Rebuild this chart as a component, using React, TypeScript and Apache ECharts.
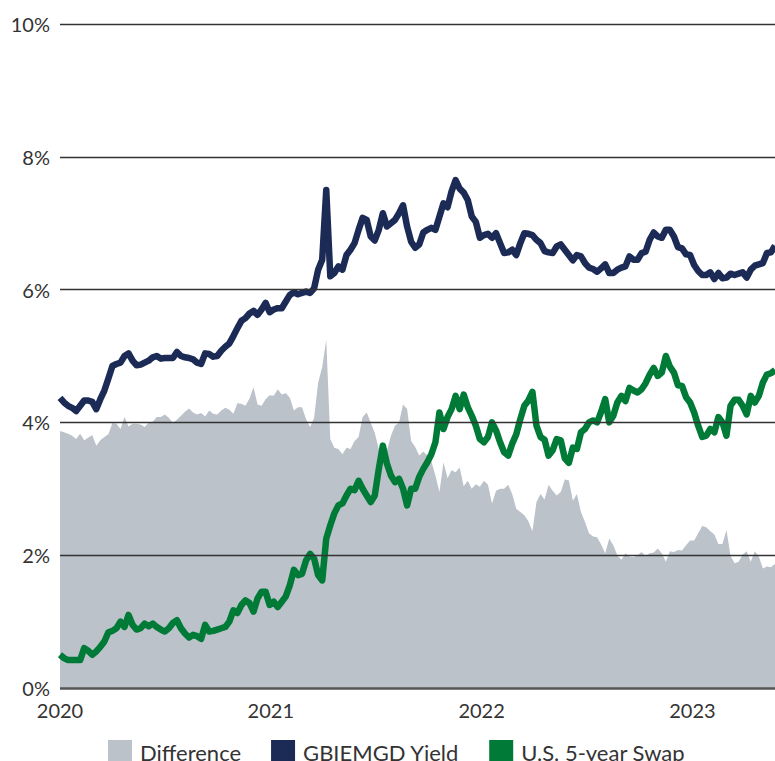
import React, { useEffect, useRef } from "react";
import * as echarts from "echarts";

// Weekly observations starting 2020-01-01
const START_DATE = "2020-01-01";
const STEP_DAYS = 7;

const gbiYield = [
  4.37, 4.3, 4.25, 4.22, 4.17, 4.25, 4.33, 4.33, 4.31, 4.2,
  4.35, 4.48, 4.66, 4.85, 4.88, 4.9, 5.0, 5.04, 4.93, 4.86,
  4.87, 4.9, 4.93, 4.98, 5.0, 4.96, 4.97, 4.97, 4.97, 5.06,
  5.0, 4.98, 4.97, 4.95, 4.9, 4.88, 5.04, 5.03, 4.99, 5.0,
  5.08, 5.14, 5.19, 5.3, 5.42, 5.53, 5.57, 5.64, 5.68, 5.62,
  5.7, 5.8, 5.66, 5.7, 5.72, 5.72, 5.82, 5.92, 5.96, 5.93,
  5.95, 5.97, 5.95, 6.02, 6.3, 6.45, 7.5, 6.2, 6.25, 6.35,
  6.3, 6.52, 6.6, 6.7, 6.9, 7.08, 7.05, 6.8, 6.74, 6.9,
  7.15, 6.95, 7.0, 7.05, 7.15, 7.27, 6.95, 6.72, 6.63, 6.68,
  6.86, 6.9, 6.93, 6.9, 7.1, 7.3, 7.24, 7.48, 7.65, 7.52,
  7.46, 7.35, 7.1, 7.02, 6.78, 6.82, 6.84, 6.78, 6.85, 6.7,
  6.55, 6.56, 6.6, 6.52, 6.7, 6.85, 6.84, 6.82, 6.75, 6.7,
  6.58, 6.56, 6.55, 6.65, 6.68, 6.6, 6.52, 6.44, 6.52, 6.5,
  6.4, 6.33, 6.31, 6.27, 6.32, 6.38, 6.25, 6.25, 6.3, 6.33,
  6.35, 6.5, 6.45, 6.45, 6.55, 6.57, 6.75, 6.86, 6.8, 6.78,
  6.9, 6.9, 6.8, 6.64, 6.62, 6.53, 6.52, 6.37, 6.28, 6.22,
  6.22, 6.26, 6.16, 6.25, 6.17, 6.18, 6.24, 6.22, 6.24, 6.26,
  6.18, 6.3, 6.36, 6.38, 6.4, 6.55, 6.56, 6.66,
];

const swap5y = [
  0.5, 0.45, 0.42, 0.42, 0.42, 0.42, 0.6, 0.56, 0.5, 0.55,
  0.62, 0.7, 0.84, 0.86, 0.9, 1.0, 0.92, 1.1, 0.95, 0.88,
  0.9, 0.97, 0.93, 0.97, 0.92, 0.88, 0.85, 0.9, 0.98, 1.02,
  0.9, 0.82, 0.76, 0.8, 0.78, 0.74, 0.95, 0.85, 0.86, 0.88,
  0.9, 0.92, 1.0, 1.17, 1.13, 1.25, 1.32, 1.28, 1.15, 1.35,
  1.45, 1.45, 1.25, 1.3, 1.22, 1.3, 1.38, 1.55, 1.78, 1.7,
  1.72, 1.92, 2.02, 1.95, 1.7, 1.62, 2.25, 2.45, 2.63, 2.75,
  2.78, 2.9, 3.0, 2.98, 3.12, 3.0, 2.9, 2.8, 2.9, 3.3,
  3.65, 3.38, 3.2, 3.1, 3.15, 3.0, 2.75, 3.0, 3.0, 3.18,
  3.3, 3.4, 3.52, 3.7, 4.15, 3.9, 4.08, 4.2, 4.4, 4.2,
  4.42, 4.23, 4.1, 3.95, 3.75, 3.7, 3.78, 4.0, 3.88, 3.7,
  3.55, 3.5, 3.68, 3.82, 4.05, 4.25, 4.33, 4.46, 3.95, 3.78,
  3.74, 3.5, 3.58, 3.75, 3.73, 3.46, 3.39, 3.62, 3.6, 3.85,
  3.9, 4.0, 4.03, 4.0, 4.16, 4.35, 4.0, 4.1, 4.3, 4.4,
  4.32, 4.52, 4.48, 4.45, 4.5, 4.59, 4.72, 4.82, 4.7, 4.75,
  5.0, 4.84, 4.75, 4.56, 4.55, 4.38, 4.3, 4.15, 3.95, 3.78,
  3.8, 3.9, 3.85, 4.08, 4.0, 3.8, 4.25, 4.34, 4.34, 4.25,
  4.12, 4.4, 4.3, 4.4, 4.6, 4.72, 4.74, 4.79,
];

const yTicks = [0, 2, 4, 6, 8, 10];
const seriesNames = ["Difference", "GBIEMGD Yield", "U.S. 5-year Swap"];

const COLORS = {
  diff: "#bbc2ca",
  gbi: "#1b2b56",
  swap: "#007a37",
  text: "#333333",
  grid: "#333333",
};

function toFractionalYear(d: Date): number {
  const y = d.getUTCFullYear();
  const start = Date.UTC(y, 0, 1);
  const end = Date.UTC(y + 1, 0, 1);
  return y + (d.getTime() - start) / (end - start);
}

export default function App() {
  const ref = useRef<HTMLDivElement>(null);

  useEffect(() => {
    if (!ref.current) return;
    const chart = echarts.init(ref.current, undefined, { renderer: "svg" });

    const t0 = new Date(START_DATE + "T00:00:00Z").getTime();
    const xs = gbiYield.map((_, i) =>
      toFractionalYear(new Date(t0 + i * STEP_DAYS * 86400000))
    );
    const gbiData = gbiYield.map((v, i) => [xs[i], v]);
    const swapData = swap5y.map((v, i) => [xs[i], v]);
    const diffData = gbiYield.map((v, i) => [xs[i], +(v - swap5y[i]).toFixed(3)]);

    const font = "Lato, 'Open Sans', sans-serif";

    chart.setOption({
      animation: false,
      grid: { left: 60, right: 0, top: 24, bottom: 73, containLabel: false },
      legend: {
        left: 108,
        top: 740,
        padding: 0,
        icon: "rect",
        itemWidth: 24,
        itemHeight: 24,
        itemGap: 30,
        selectedMode: false,
        data: seriesNames,
        textStyle: {
          fontFamily: font,
          fontSize: 22,
          color: COLORS.text,
          padding: [0, 0, 0, 3],
        },
      },
      xAxis: {
        type: "value",
        min: 2020,
        max: xs[xs.length - 1],
        interval: 1,
        axisLine: { show: false },
        axisTick: { show: false },
        splitLine: { show: false },
        axisLabel: {
          color: COLORS.text,
          fontFamily: font,
          fontSize: 20,
          margin: 12,
          showMaxLabel: false,
          formatter: (v: number) =>
            Math.abs(v - Math.round(v)) < 1e-6 ? String(Math.round(v)) : "",
        },
      },
      yAxis: {
        type: "value",
        min: 0,
        max: 10,
        interval: 2,
        axisLine: { show: false },
        axisTick: { show: false },
        splitLine: { show: false },
        axisLabel: {
          color: COLORS.text,
          fontFamily: font,
          fontSize: 20,
          margin: 10,
          formatter: "{value}%",
        },
      },
      series: [
        {
          name: seriesNames[0],
          type: "line",
          data: diffData,
          showSymbol: false,
          symbol: "none",
          lineStyle: { width: 0 },
          itemStyle: { color: COLORS.diff },
          areaStyle: { color: COLORS.diff, opacity: 1 },
          z: 1,
          silent: true,
          markLine: {
            silent: true,
            symbol: "none",
            label: { show: false },
            animation: false,
            data: yTicks.map((t) => ({
              yAxis: t,
              lineStyle: {
                color: t === 0 ? "#555555" : COLORS.grid,
                width: t === 0 ? 2.5 : 1.3,
                type: "solid",
              },
            })),
          },
        },
        {
          name: seriesNames[1],
          type: "line",
          data: gbiData,
          showSymbol: false,
          symbol: "none",
          itemStyle: { color: COLORS.gbi },
          lineStyle: { color: COLORS.gbi, width: 6.5, join: "round" },
          z: 3,
        },
        {
          name: seriesNames[2],
          type: "line",
          data: swapData,
          showSymbol: false,
          symbol: "none",
          itemStyle: { color: COLORS.swap },
          lineStyle: { color: COLORS.swap, width: 6.5, join: "round" },
          z: 3,
        },
      ],
    });

    return () => chart.dispose();
  }, []);

  return (
    <div
      ref={ref}
      style={{
        position: "fixed",
        left: 0,
        top: 0,
        width: 775,
        height: 761,
        background: "#ffffff",
      }}
    />
  );
}
